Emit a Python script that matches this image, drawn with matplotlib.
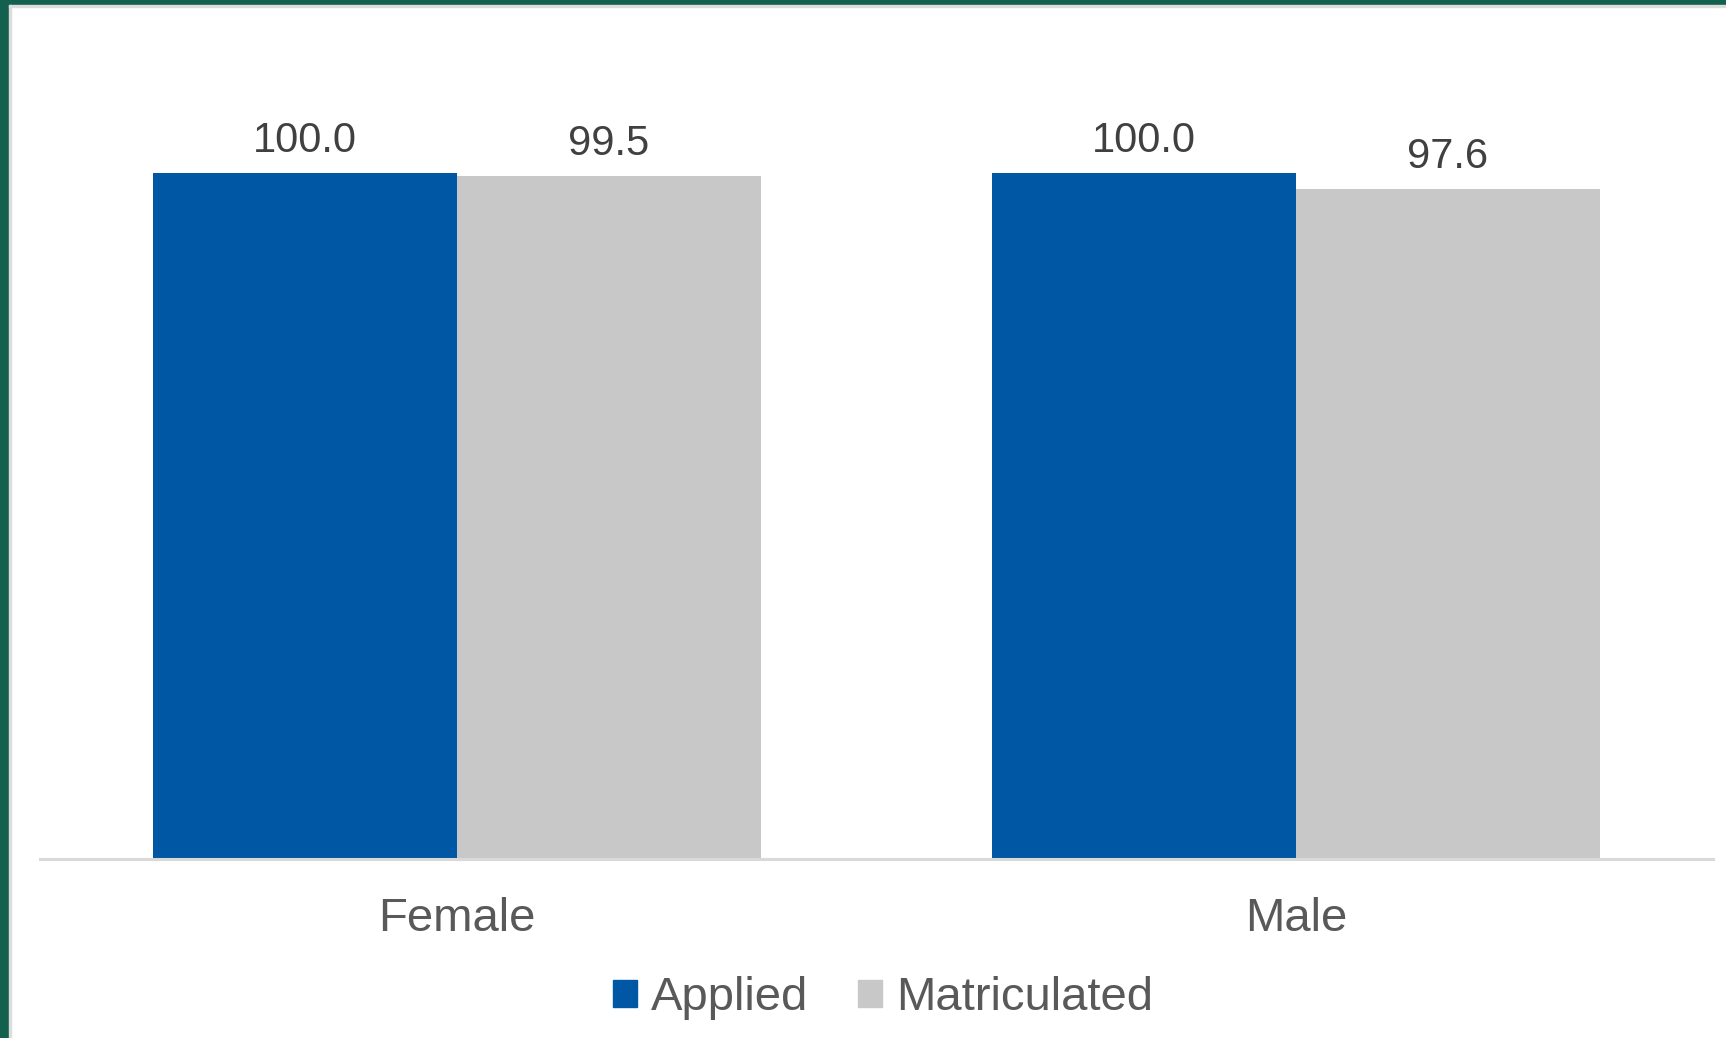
import numpy as np
import matplotlib.pyplot as plt
from matplotlib.patches import Rectangle, Patch

# Datos
categorias = ['Female', 'Male']
applied = [100.0, 100.0]
matriculated = [99.5, 97.6]
series = ['Applied', 'Matriculated']

color_applied = '#0057A4'
color_matric = '#C8C8C8'

plt.rcParams['font.family'] = ['Liberation Sans', 'DejaVu Sans']

W, H = 1726, 1038
fig = plt.figure(figsize=(W / 100, H / 100), dpi=100)
fig.patch.set_facecolor('white')

# Marco verde (izquierda y arriba)
fig.patches.append(Rectangle((0, 0), 9 / W, 1, transform=fig.transFigure,
                             color='#12604D', zorder=5))
fig.patches.append(Rectangle((0, 1 - 5 / H), 1, 5 / H, transform=fig.transFigure,
                             color='#12604D', zorder=5))
fig.patches.append(Rectangle((9 / W, 0), 2 / W, 1 - 5 / H, transform=fig.transFigure,
                             color='#DCDCDC', zorder=5))
fig.patches.append(Rectangle((9 / W, 1 - 7 / H), 1, 2 / H, transform=fig.transFigure,
                             color='#DCDCDC', zorder=5))

# Ejes
base_px, top_px = 859, 10
ax = fig.add_axes([40 / W, (H - base_px) / H, (1713 - 40) / W, (base_px - top_px) / H])
x = np.arange(len(categorias))
ancho = 0.362
b1 = ax.bar(x - ancho / 2, applied, ancho, color=color_applied, label=series[0])
b2 = ax.bar(x + ancho / 2, matriculated, ancho, color=color_matric, label=series[1])

ax.set_xlim(-0.497, 1.497)
ax.set_ylim(0, 100 * (base_px - top_px) / 686)

for barras in (b1, b2):
    for r in barras:
        ax.annotate(f'{r.get_height():.1f}', (r.get_x() + r.get_width() / 2, r.get_height()),
                    xytext=(0, 9), textcoords='offset points', ha='center', va='bottom',
                    fontsize=30, color='#404040')

for s in ['top', 'right', 'left']:
    ax.spines[s].set_visible(False)
ax.spines['bottom'].set_color('#D9D9D9')
ax.spines['bottom'].set_linewidth(2.2)
ax.set_yticks([])
ax.set_xticks(x)
ax.set_xticklabels(categorias, fontsize=34, color='#595959')
ax.tick_params(axis='x', length=0, pad=27.5)

fig.legend(handles=[Patch(color=color_applied), Patch(color=color_matric)],
           labels=series, loc='center', bbox_to_anchor=(883 / W, 1 - 998 / H),
           ncol=2, frameon=False, fontsize=34, labelcolor='#595959',
           handlelength=0.5, handleheight=0.5, handletextpad=0.3, columnspacing=1.05)

fig.savefig('out.png', dpi=100)
